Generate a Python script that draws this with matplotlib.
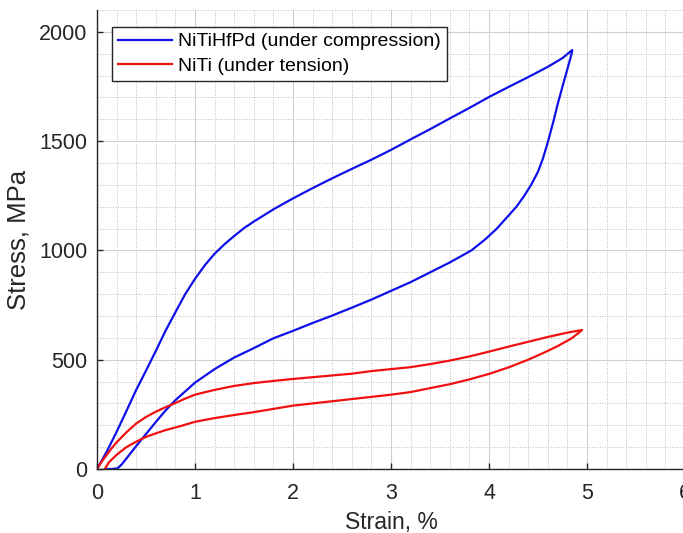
import matplotlib
matplotlib.use("Agg")
import matplotlib.pyplot as plt
from matplotlib.ticker import MultipleLocator

plt.rcParams['font.family'] = ['Liberation Sans', 'DejaVu Sans']

# NiTiHfPd under compression (strain %, stress MPa), loading branch
hf_load_strain = [0, 0.1, 0.2, 0.3, 0.4, 0.5, 0.6, 0.7, 0.8, 0.9, 1.0, 1.1, 1.2, 1.3,
                  1.4, 1.5, 1.6, 1.8, 2.0, 2.2, 2.4, 2.6, 2.8, 3.0, 3.2, 3.4, 3.6,
                  3.8, 4.0, 4.2, 4.4, 4.6, 4.75, 4.85]
hf_load_stress = [0, 80, 170, 265, 362, 450, 540, 633, 717, 800, 870, 932, 985, 1028,
                  1066, 1102, 1132, 1188, 1238, 1285, 1330, 1373, 1415, 1460, 1508,
                  1555, 1604, 1652, 1702, 1748, 1793, 1840, 1880, 1917]
# unloading branch
hf_unload_strain = [4.85, 4.84, 4.80, 4.75, 4.70, 4.66, 4.60, 4.55, 4.50, 4.43, 4.36,
                    4.28, 4.18, 4.08, 3.96, 3.82, 3.6, 3.4, 3.2, 3.0, 2.8, 2.6, 2.4,
                    2.2, 2.0, 1.8, 1.6, 1.4, 1.2, 1.0, 0.9, 0.8, 0.7, 0.6, 0.5, 0.4,
                    0.3, 0.25, 0.21, 0.15, 0.08]
hf_unload_stress = [1917, 1895, 1830, 1750, 1668, 1595, 1495, 1420, 1360, 1300, 1250,
                    1200, 1150, 1100, 1050, 1000, 945, 900, 855, 815, 775, 738, 702,
                    668, 632, 598, 553, 510, 457, 395, 355, 315, 268, 215, 160, 105,
                    48, 20, 3, 0, 0]

# NiTi under tension, loading branch
ni_load_strain = [0, 0.05, 0.1, 0.15, 0.2, 0.3, 0.4, 0.5, 0.6, 0.7, 0.8, 0.9, 1.0,
                  1.2, 1.4, 1.6, 1.8, 2.0, 2.2, 2.4, 2.6, 2.8, 3.0, 3.2, 3.4, 3.6,
                  3.8, 4.0, 4.2, 4.4, 4.6, 4.8, 4.95]
ni_load_stress = [0, 35, 65, 95, 122, 168, 208, 238, 262, 283, 302, 322, 340,
                  362, 380, 393, 403, 412, 420, 428, 436, 448, 457, 466, 480, 496,
                  515, 537, 560, 582, 604, 624, 636]
# unloading branch
ni_unload_strain = [4.95, 4.85, 4.7, 4.55, 4.4, 4.2, 4.0, 3.8, 3.6, 3.4, 3.2, 3.0,
                    2.8, 2.6, 2.4, 2.2, 2.0, 1.8, 1.6, 1.4, 1.2, 1.0, 0.85, 0.7,
                    0.6, 0.5, 0.4, 0.3, 0.2, 0.12, 0.08]
ni_unload_stress = [636, 600, 562, 530, 500, 465, 435, 410, 388, 370, 352, 340,
                    330, 320, 310, 300, 290, 275, 260, 247, 233, 216, 196, 178,
                    163, 147, 125, 100, 65, 30, 0]

fig = plt.figure(figsize=(6.83, 5.33), dpi=100)
ax = fig.add_axes([97/683, 64/533, 588/683, 459/533])

ax.plot(hf_load_strain + hf_unload_strain, hf_load_stress + hf_unload_stress,
        color='#1010e8', lw=1.6, label='NiTiHfPd (under compression)')
ax.plot(ni_load_strain + ni_unload_strain, ni_load_stress + ni_unload_stress,
        color='#f01010', lw=1.6, label='NiTi (under tension)')

ax.set_xlim(0, 6)
ax.set_ylim(0, 2100)
ax.xaxis.set_major_locator(MultipleLocator(1))
ax.xaxis.set_minor_locator(MultipleLocator(0.2))
ax.yaxis.set_major_locator(MultipleLocator(500))
ax.yaxis.set_minor_locator(MultipleLocator(100))
ax.grid(which='major', color='#d0d0d0', lw=0.8)
ax.grid(which='minor', color='#bdbdbd', lw=0.7, ls=':')
ax.set_axisbelow(True)

for s in ['top', 'right']:
    ax.spines[s].set_visible(False)
for s in ['left', 'bottom']:
    ax.spines[s].set_color('#262626')
    ax.spines[s].set_linewidth(1.0)
ax.tick_params(which='major', direction='in', length=4, width=1, colors='#262626',
               labelsize=15.5)
ax.tick_params(axis='x', pad=10)
ax.tick_params(axis='y', pad=7)
ax.tick_params(which='minor', length=0)

ax.set_xlabel('Strain, %', fontsize=16.5, color='#262626', labelpad=5)
ax.set_ylabel('Stress, MPa', fontsize=18.5, color='#262626', labelpad=6)

leg = ax.legend(loc='upper left', bbox_to_anchor=(0.0255, 0.963), fontsize=14,
                frameon=True, fancybox=False, handlelength=2.8, borderpad=0.3,
                labelspacing=0.35, handletextpad=0.3, borderaxespad=0)
leg.get_frame().set_edgecolor('#262626')
leg.get_frame().set_linewidth(1.0)
leg.get_frame().set_alpha(1)

fig.savefig('out.png', dpi=100)
